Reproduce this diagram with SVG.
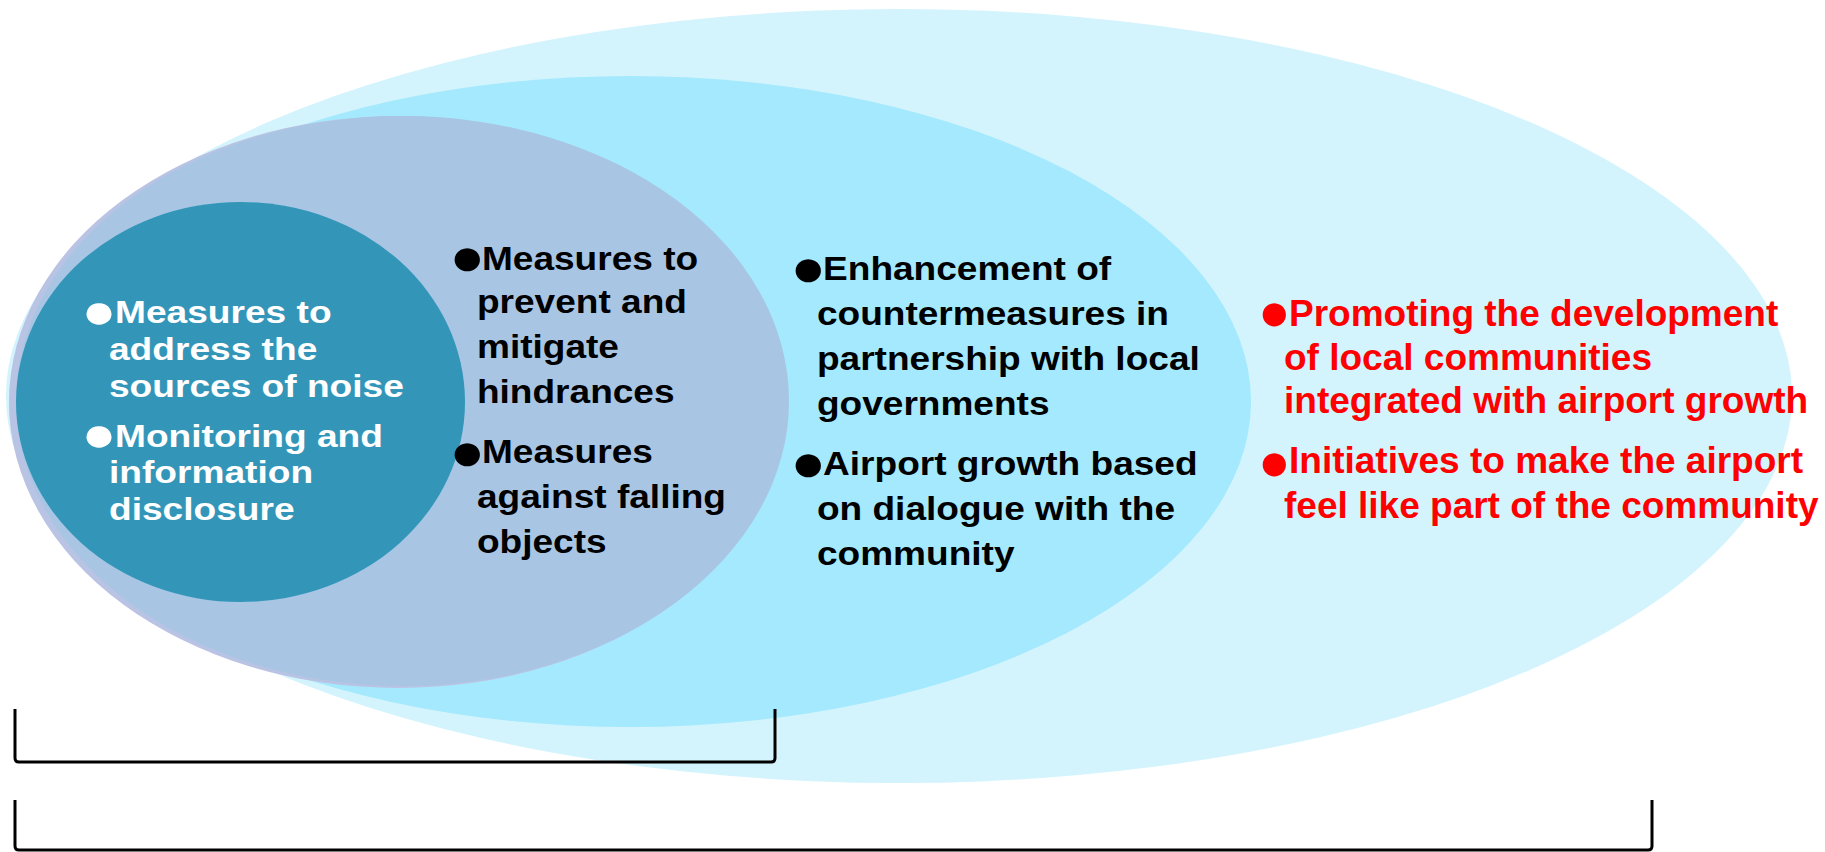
<svg xmlns="http://www.w3.org/2000/svg" width="1825" height="852" viewBox="0 0 1825 852">
<style>
.t{font-family:"Liberation Sans",Arial,sans-serif;font-weight:bold}
.w{fill:#FFFFFF}
.b{fill:#000000}
.r{fill:#FF0000}
.bul{font-size:54px}
.bulw{font-size:50px}
.br{fill:none;stroke:#000000;stroke-width:3}
</style>
<rect width="1825" height="852" fill="#FFFFFF"/>
<g id="outer">
<ellipse cx="899" cy="396" rx="893" ry="387" fill="#D4F4FD"/>
</g>
<g id="middle">
<ellipse cx="630" cy="401.5" rx="621" ry="325.5" fill="#A4E9FD"/>
</g>
<g id="inner">
<ellipse cx="398" cy="402" rx="389" ry="286" fill="#B9C3E3"/>
<ellipse cx="402.5" cy="401" rx="386.5" ry="285" fill="#A8C6E4"/>
</g>
<g id="core">
<ellipse cx="240.5" cy="402" rx="224.5" ry="200" fill="#3396B9"/>
</g>
<g id="text-core" class="t w" font-size="32" transform="matrix(1.16 0 0 1 -14.08 0)">
<text><tspan class="bulw" x="82.5" y="328.5">●</tspan><tspan x="111.3" y="323">Measures to</tspan></text>
<text x="106.1" y="360">address the</text>
<text x="106.1" y="397">sources of noise</text>
<text><tspan class="bulw" x="82.5" y="451.5">●</tspan><tspan x="111.3" y="447">Monitoring and</tspan></text>
<text x="106.1" y="483">information</text>
<text x="106.1" y="520">disclosure</text>
</g>
<g id="text-inner" class="t b" font-size="34" transform="matrix(1.09 0 0 1 -41.13 0)">
<text><tspan class="bul" x="450.2" y="275">●</tspan><tspan x="479.9" y="270">Measures to</tspan></text>
<text x="475.3" y="313">prevent and</text>
<text x="475.3" y="358">mitigate</text>
<text x="475.3" y="403">hindrances</text>
<text><tspan class="bul" x="450.2" y="470">●</tspan><tspan x="479.9" y="463">Measures</tspan></text>
<text x="475.3" y="508">against falling</text>
<text x="475.3" y="553">objects</text>
</g>
<g id="text-middle" class="t b" font-size="34" transform="matrix(1.09 0 0 1 -71.73 0)">
<text><tspan class="bul" x="791.1" y="286">●</tspan><tspan x="820.9" y="280">Enhancement of</tspan></text>
<text x="815.3" y="325">countermeasures in</text>
<text x="815.3" y="370">partnership with local</text>
<text x="815.3" y="415">governments</text>
<text><tspan class="bul" x="791.1" y="481">●</tspan><tspan x="820.9" y="475">Airport growth based</tspan></text>
<text x="815.3" y="520">on dialogue with the</text>
<text x="815.3" y="565">community</text>
</g>
<g id="text-outer" class="t r" font-size="37">
<text><tspan class="bul" x="1258.1" y="330">●</tspan><tspan x="1289" y="326">Promoting the development</tspan></text>
<text x="1284" y="370">of local communities</text>
<text x="1284" y="413">integrated with airport growth</text>
<text><tspan class="bul" x="1258.1" y="480">●</tspan><tspan x="1289" y="473">Initiatives to make the airport</tspan></text>
<text x="1284" y="518">feel like part of the community</text>
</g>
<g id="connectors">
<path class="br" d="M15,709 V758 Q15,762 19,762 H771 Q775,762 775,758 V709"/>
<path class="br" d="M15,800 V846 Q15,850 19,850 H1648 Q1652,850 1652,846 V800"/>
</g>
</svg>
